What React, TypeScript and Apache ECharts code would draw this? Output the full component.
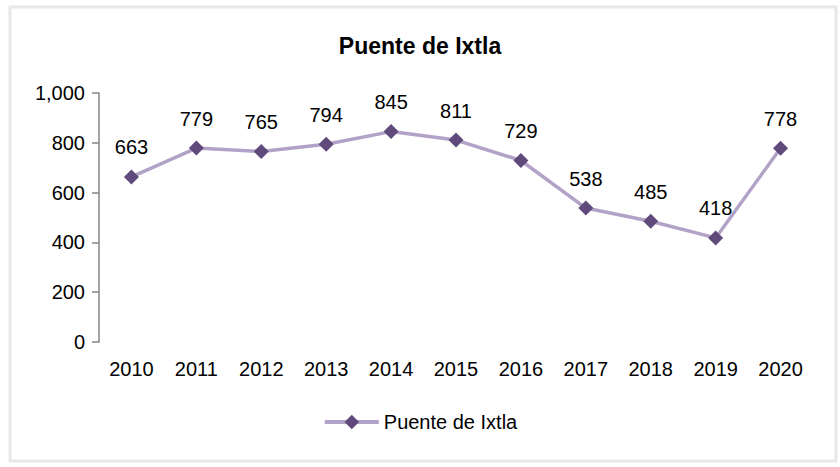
import React, { useEffect, useRef } from "react";
import * as echarts from "echarts";

const years = ["2010", "2011", "2012", "2013", "2014", "2015", "2016", "2017", "2018", "2019", "2020"];
const values = [663, 779, 765, 794, 845, 811, 729, 538, 485, 418, 778];
const seriesName = "Puente de Ixtla";
const titleText = "Puente de Ixtla";

const FONT = "'Liberation Sans', Arial, sans-serif";

export default function App() {
  const ref = useRef<HTMLDivElement>(null);
  useEffect(() => {
    if (!ref.current) return;
    const chart = echarts.init(ref.current, null, { renderer: "svg" });
    chart.setOption({
      animation: false,
      backgroundColor: "#ffffff",
      textStyle: { fontFamily: FONT },
      graphic: [
        {
          type: "rect",
          z: -10,
          shape: { x: 10, y: 7, width: 826, height: 454 },
          style: { fill: "#ffffff", stroke: "#e8e8e8", lineWidth: 3 },
          silent: true,
        },
      ],
      title: {
        text: titleText,
        left: "center",
        top: 29,
        textStyle: { fontFamily: FONT, fontSize: 23, fontWeight: "bold", color: "#000" },
      },
      legend: {
        bottom: 30,
        left: "center",
        itemWidth: 54,
        itemHeight: 18,
        itemGap: 10,
        lineStyle: { width: 4, color: "#b3a2c7" },
        textStyle: { fontFamily: FONT, fontSize: 20, color: "#000" },
        data: [seriesName],
      },
      grid: { left: 99, right: 27, top: 93, bottom: 125, containLabel: false },
      xAxis: {
        type: "category",
        data: years,
        boundaryGap: true,
        axisLine: { show: false },
        axisTick: { show: false },
        axisLabel: { fontFamily: FONT, fontSize: 20, color: "#000", margin: 17 },
      },
      yAxis: {
        type: "value",
        min: 0,
        max: 1000,
        interval: 200,
        splitLine: { show: false },
        axisLine: { show: true, lineStyle: { color: "#868686", width: 1.5 } },
        axisTick: { show: true, inside: false, length: 7, lineStyle: { color: "#868686", width: 1.5 } },
        axisLabel: {
          fontFamily: FONT,
          fontSize: 20,
          color: "#000",
          margin: 14,
          formatter: (v: number) => v.toLocaleString("en-US"),
        },
      },
      series: [
        {
          name: seriesName,
          type: "line",
          data: values,
          symbol: "diamond",
          symbolSize: 15,
          lineStyle: { color: "#b3a2c7", width: 3.5 },
          itemStyle: { color: "#604a7b" },
          label: {
            show: true,
            position: "top",
            distance: 12,
            fontFamily: FONT,
            fontSize: 20,
            color: "#000",
          },
        },
      ],
    });
    return () => chart.dispose();
  }, []);
  return <div ref={ref} style={{ width: 840, height: 467, position: "absolute", left: 0, top: 0 }} />;
}
